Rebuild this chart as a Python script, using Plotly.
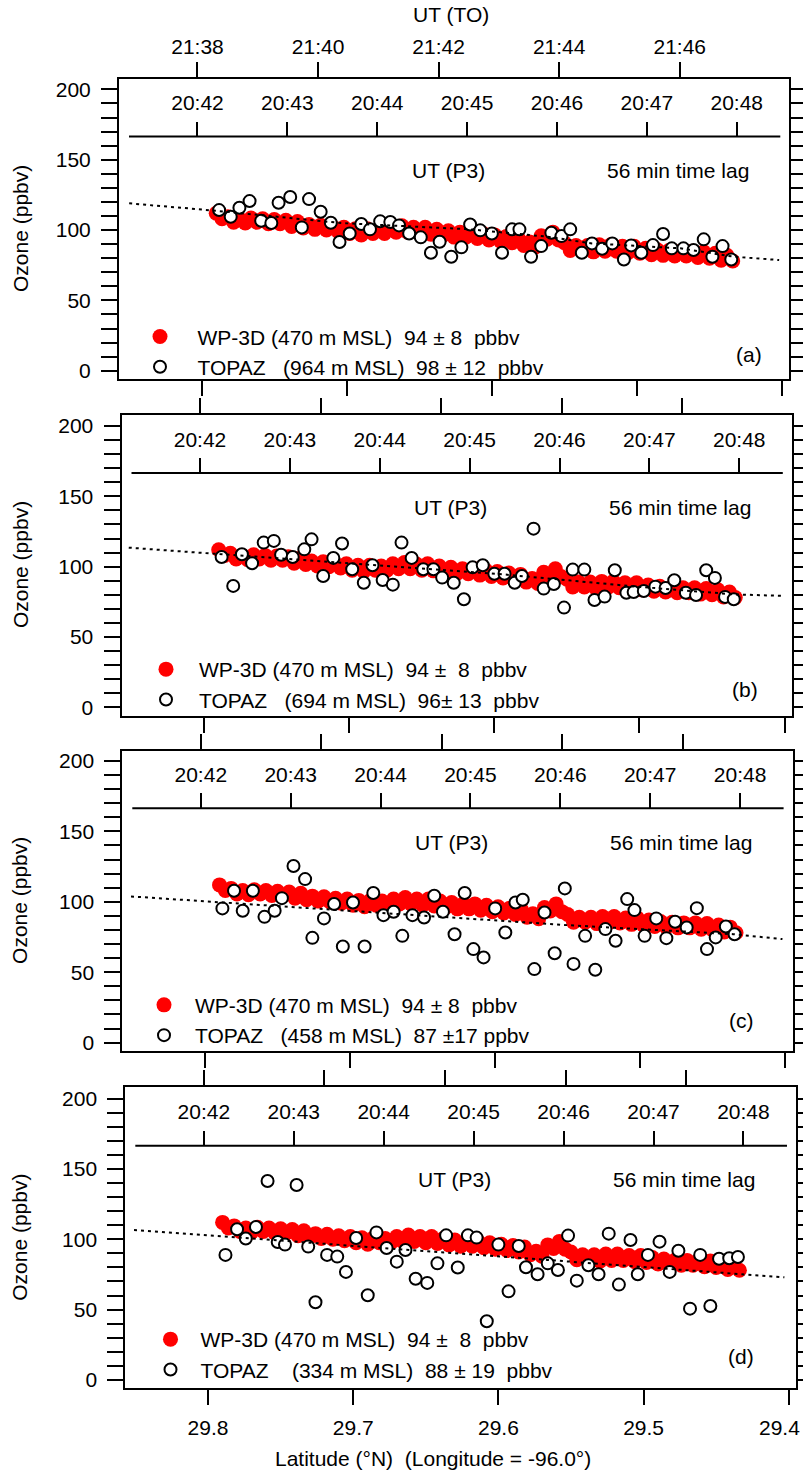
import plotly.graph_objects as go

W, H = 803, 1472
FONT = "Arial, Liberation Sans, sans-serif"
FS = 21

# ---- shared axes -------------------------------------------------------
LAT_RANGE = [29.857, 29.395]          # north on the left
LAT_TICKS = [29.8, 29.7, 29.6, 29.5, 29.4]
P3_TICKS = ["20:42", "20:43", "20:44", "20:45", "20:46", "20:47", "20:48"]
TO_TICKS = ["21:38", "21:40", "21:42", "21:44", "21:46"]
O3_TICKS = [0, 50, 100, 150, 200]

# aircraft (P3) and tower (TO) clocks against latitude
P3_REF_TIME, P3_REF_LAT, P3_DEG_PER_MIN = "20:42", 29.8029, 0.06195
TO_REF_TIME, TO_REF_LAT, TO_DEG_PER_MIN = "21:38", 29.8029, 0.04155
P3_AXIS_LEVEL = 166.5                  # ppbv level of the inner P3 time axis

# ---- WP-3D ozone along the flight track (same leg in every panel) ------
P3_LAT = [29.790, 29.786, 29.782, 29.778, 29.774, 29.770, 29.766, 29.762, 29.758, 29.754,
          29.750, 29.746, 29.742, 29.738, 29.734, 29.730, 29.726, 29.722, 29.718, 29.714,
          29.710, 29.706, 29.702, 29.698, 29.694, 29.690, 29.686, 29.682, 29.678, 29.674,
          29.670, 29.666, 29.662, 29.658, 29.654, 29.650, 29.646, 29.642, 29.638, 29.634,
          29.630, 29.626, 29.622, 29.618, 29.614, 29.610, 29.606, 29.602, 29.598, 29.594,
          29.590, 29.586, 29.582, 29.578, 29.574, 29.570, 29.566, 29.562, 29.558, 29.554,
          29.550, 29.546, 29.542, 29.538, 29.534, 29.530, 29.526, 29.522, 29.518, 29.514,
          29.510, 29.506, 29.502, 29.498, 29.494, 29.490, 29.486, 29.482, 29.478, 29.474,
          29.470, 29.466, 29.462, 29.458, 29.454, 29.450, 29.446, 29.442, 29.438, 29.434]
P3_O3 = [112.0, 108.0, 109.5, 105.5, 108.0, 105.0, 108.5, 105.5, 108.0, 104.5,
         107.5, 104.5, 107.0, 102.5, 106.0, 101.5, 104.0, 100.5, 103.5, 100.0,
         102.5, 99.0, 102.0, 97.5, 101.0, 96.5, 101.0, 97.5, 100.5, 97.5,
         102.0, 98.5, 103.0, 98.5, 102.0, 97.5, 102.0, 97.0, 100.5, 96.0,
         99.5, 95.0, 98.5, 95.0, 98.5, 94.0, 97.5, 93.0, 96.5, 92.0,
         95.5, 91.0, 94.5, 89.0, 91.5, 88.0, 96.0, 93.5, 98.5, 93.0,
         91.0, 85.5, 89.0, 85.5, 89.0, 84.5, 89.5, 85.0, 89.5, 85.0,
         88.5, 84.0, 88.5, 83.5, 87.0, 82.5, 86.0, 82.0, 85.5, 81.5,
         85.0, 81.5, 85.0, 80.5, 84.5, 80.0, 83.5, 78.5, 82.0, 78.0]

# ---- TOPAZ lidar ozone, mapped to latitude with the 56 min lag ---------
TOPAZ_LAT = [29.788, 29.780, 29.774, 29.767, 29.759, 29.752, 29.747, 29.739, 29.731, 29.726,
             29.718, 29.711, 29.705, 29.698, 29.690, 29.684, 29.677, 29.670, 29.664, 29.657,
             29.649, 29.642, 29.636, 29.628, 29.621, 29.615, 29.608, 29.600, 29.593, 29.586,
             29.581, 29.573, 29.566, 29.559, 29.552, 29.546, 29.538, 29.531, 29.524, 29.517,
             29.509, 29.504, 29.497, 29.489, 29.482, 29.476, 29.468, 29.461, 29.454, 29.448,
             29.441, 29.435]
TOPAZ_964 = [114.2, 109.5, 115.9, 120.6, 106.6, 105.0, 119.4, 123.5, 101.9, 122.0,
             113.0, 105.2, 91.5, 97.6, 104.3, 100.5, 106.2, 105.7, 103.3, 97.6,
             94.8, 83.9, 91.7, 81.0, 87.7, 104.0, 99.8, 97.6, 83.9, 100.5,
             100.5, 81.0, 88.6, 98.1, 95.7, 100.5, 83.9, 90.5, 86.7, 90.5,
             79.1, 89.1, 83.9, 89.3, 97.2, 87.0, 87.0, 85.8, 93.4, 81.0,
             88.6, 79.1]
TOPAZ_694 = [106.9, 86.3, 108.8, 102.4, 117.1, 118.3, 108.5, 106.9, 112.3, 119.4,
             93.4, 106.2, 116.4, 98.1, 88.6, 101.0, 90.5, 87.2, 117.1, 106.2,
             98.1, 98.1, 92.2, 88.6, 76.8, 99.5, 101.0, 95.0, 95.0, 88.6,
             93.4, 127.0, 84.4, 87.7, 70.9, 97.9, 97.9, 76.3, 78.7, 97.4,
             81.5, 82.0, 82.7, 85.8, 84.8, 90.3, 81.5, 79.9, 97.4, 92.0,
             78.5, 76.8]
TOPAZ_458 = [95.3, 107.8, 93.6, 107.8, 89.3, 93.6, 102.6, 125.4, 116.1, 74.4,
             88.2, 98.4, 68.3, 99.5, 68.3, 106.2, 90.5, 92.9, 75.8, 90.5,
             88.9, 104.3, 92.9, 77.0, 106.2, 66.4, 60.5, 95.3, 78.2, 99.5,
             101.4, 52.2, 92.4, 63.5, 109.5, 55.9, 75.8, 51.7, 80.6, 72.3,
             101.9, 94.1, 75.8, 88.2, 74.2, 85.8, 81.8, 95.5, 66.4, 74.7,
             82.5, 77.0]
TOPAZ_334 = [88.9, 107.1, 100.5, 108.7, 141.4, 98.1, 96.2, 138.6, 94.8, 55.2,
             88.9, 87.7, 76.8, 100.9, 60.2, 104.9, 93.8, 84.1, 92.4, 72.0,
             69.0, 82.9, 102.8, 79.9, 102.8, 101.2, 41.7, 96.2, 63.0, 95.2,
             80.1, 75.1, 82.9, 78.2, 102.6, 70.6, 81.5, 75.1, 104.0, 67.8,
             99.5, 75.1, 88.9, 98.3, 76.8, 91.9, 50.7, 88.9, 52.6, 86.2,
             86.5, 87.4]

# smoothed TOPAZ trend (dotted)
TREND_964_LAT = [29.850, 29.790, 29.704, 29.615, 29.562, 29.531, 29.470, 29.433, 29.402]
TREND_964_O3 = [119.0, 113.7, 105.0, 100.5, 95.3, 90.5, 87.0, 81.0, 78.7]
TREND_694_LAT = [29.852, 29.789, 29.687, 29.595, 29.564, 29.502, 29.435, 29.401]
TREND_694_O3 = [113.5, 108.8, 101.0, 94.6, 91.7, 85.8, 80.3, 79.2]
TREND_458_LAT = [29.851, 29.728, 29.614, 29.550, 29.436, 29.402]
TREND_458_O3 = [103.8, 95.3, 87.7, 83.4, 77.0, 73.5]
TREND_334_LAT = [29.851, 29.820, 29.776, 29.659, 29.566, 29.505, 29.437, 29.403]
TREND_334_O3 = [106.6, 104.3, 101.4, 92.4, 85.3, 80.6, 75.8, 73.0]

WP3D_LABELS = ["WP-3D (470 m MSL)  94 ± 8  pbbv",
               "WP-3D (470 m MSL)  94 ±  8  pbbv",
               "WP-3D (470 m MSL)  94 ± 8  pbbv",
               "WP-3D (470 m MSL)  94 ±  8  pbbv"]
TOPAZ_LABELS = ["TOPAZ   (964 m MSL)  98 ± 12  pbbv",
                "TOPAZ   (694 m MSL)  96± 13  pbbv",
                "TOPAZ   (458 m MSL)  87 ±17 ppbv",
                "TOPAZ    (334 m MSL)  88 ± 19  pbbv"]
PANEL_TAGS = ["(a)", "(b)", "(c)", "(d)"]
TOPAZ_SERIES = [TOPAZ_964, TOPAZ_694, TOPAZ_458, TOPAZ_334]
TRENDS = [(TREND_964_LAT, TREND_964_O3), (TREND_694_LAT, TREND_694_O3),
          (TREND_458_LAT, TREND_458_O3), (TREND_334_LAT, TREND_334_O3)]

# panel frames in page pixels and their ozone windows
FRAMES = [
    dict(left=119.0, right=789.3, top=79.0, bottom=379.0, yr=[-5.9, 207.4],
         tag_x=0.940, tag_y=11.2, leg=(160.0, 333.3, 65)),
    dict(left=121.5, right=791.8, top=414.7, bottom=715.5, yr=[-5.8, 208.0],
         tag_x=0.930, tag_y=12.8, leg=(166.0, 666.0, 56)),
    dict(left=122.3, right=792.6, top=750.7, bottom=1051.2, yr=[-6.1, 207.3],
         tag_x=0.924, tag_y=15.9, leg=(164.0, 1001.7, 52)),
    dict(left=125.3, right=796.0, top=1087.3, bottom=1388.3, yr=[-5.9, 208.0],
         tag_x=0.918, tag_y=16.5, leg=(170.5, 1336.0, 50)),
]

# the last latitude label sits against the page edge, so it is set flush right
LAT_TICK_TEXT = [f"{v:.1f}" for v in LAT_TICKS[:-1]] + [""]
EDGE_LABEL = f"{LAT_TICKS[-1]:.1f}"
LAT_LABEL_ROW = 1427                   # page y of the latitude tick labels


def minutes(hhmm):
    h, m = hhmm.split(":")
    return int(h) * 60 + int(m)


def clock_at(lat, ref_time, ref_lat, deg_per_min):
    return minutes(ref_time) + (ref_lat - lat) / deg_per_min


P3_RANGE = [clock_at(v, P3_REF_TIME, P3_REF_LAT, P3_DEG_PER_MIN) for v in LAT_RANGE]
TO_RANGE = [clock_at(v, TO_REF_TIME, TO_REF_LAT, TO_DEG_PER_MIN) for v in LAT_RANGE]

axis_common = dict(showgrid=False, zeroline=False, color="black", automargin=False,
                   tickfont=dict(family=FONT, size=FS, color="black"),
                   tickcolor="black", tickwidth=2, ticklabeloverflow="allow")

fig = go.Figure()
layout = dict(template="none", width=W, height=H, autosize=False,
              margin=dict(l=0, r=0, t=0, b=0, pad=0),
              paper_bgcolor="white", plot_bgcolor="rgba(0,0,0,0)",
              font=dict(family=FONT, size=FS, color="black"),
              showlegend=True, annotations=[], shapes=[])

for i, fr in enumerate(FRAMES):
    n_lat, n_to, n_p3 = 3 * i + 1, 3 * i + 2, 3 * i + 3
    xa = lambda n: "x" if n == 1 else f"x{n}"
    xk = lambda n: "xaxis" if n == 1 else f"xaxis{n}"
    ya = "y" if i == 0 else f"y{i + 1}"
    yk = "yaxis" if i == 0 else f"yaxis{i + 1}"
    leg = "legend" if i == 0 else f"legend{i + 1}"

    dom_x = [fr["left"] / W, fr["right"] / W]
    dom_y = [1 - fr["bottom"] / H, 1 - fr["top"] / H]
    y0, y1 = fr["yr"]
    px_per_ppbv = (fr["bottom"] - fr["top"]) / (y1 - y0)
    p3_px = fr["top"] + (y1 - P3_AXIS_LEVEL) * px_per_ppbv

    layout[xk(n_lat)] = dict(domain=dom_x, range=LAT_RANGE, anchor=ya,
                             tickvals=LAT_TICKS, ticktext=LAT_TICK_TEXT,
                             showticklabels=(i == 3), ticks="outside", ticklen=15,
                             ticklabelstandoff=4,
                             showline=True, linewidth=2, linecolor="black", mirror=True,
                             **axis_common)
    layout[xk(n_to)] = dict(domain=dom_x, range=TO_RANGE, anchor=ya, overlaying=xa(n_lat),
                            side="top", tickvals=[minutes(t) for t in TO_TICKS],
                            ticktext=TO_TICKS, showticklabels=(i == 0),
                            ticks="outside", ticklen=16, ticklabelstandoff=0,
                            showline=False, **axis_common)
    layout[xk(n_p3)] = dict(domain=dom_x, range=P3_RANGE, anchor="free",
                            overlaying=xa(n_lat), position=1 - p3_px / H,
                            side="top", tickvals=[minutes(t) for t in P3_TICKS],
                            ticktext=P3_TICKS, ticks="outside", ticklen=15,
                            ticklabelstandoff=3, showline=False, **axis_common)
    layout[yk] = dict(domain=dom_y, range=fr["yr"], anchor=xa(n_lat),
                      tickvals=O3_TICKS, ticks="outside", ticklen=16,
                      ticklabelstandoff=6,
                      minor=dict(dtick=10, tick0=0, ticks="outside", ticklen=6,
                                 tickwidth=2, tickcolor="black"),
                      showline=True, linewidth=2, linecolor="black", mirror="allticks",
                      **axis_common)

    # inner P3 time axis baseline
    layout["shapes"].append(dict(type="line", xref=f"{xa(n_lat)} domain", yref=ya,
                                 x0=10 / 670, x1=1 - 9 / 670,
                                 y0=P3_AXIS_LEVEL, y1=P3_AXIS_LEVEL,
                                 line=dict(color="black", width=2)))

    # WP-3D
    fig.add_trace(go.Scatter(x=P3_LAT, y=P3_O3, xaxis=xa(n_lat), yaxis=ya, mode="markers",
                             marker=dict(color="#ff0000", size=15, line=dict(width=0)),
                             name=WP3D_LABELS[i].replace(" ", "\u00a0"), legend=leg,
                             legendgroup=f"p3{i}", hoverinfo="skip"))
    # TOPAZ
    fig.add_trace(go.Scatter(x=TOPAZ_LAT, y=TOPAZ_SERIES[i], xaxis=xa(n_lat), yaxis=ya,
                             mode="markers",
                             marker=dict(color="white", size=12,
                                         line=dict(color="black", width=2)),
                             name=TOPAZ_LABELS[i].replace(" ", "\u00a0"), legend=leg,
                             legendgroup=f"to{i}", hoverinfo="skip"))
    # trend
    fig.add_trace(go.Scatter(x=TRENDS[i][0], y=TRENDS[i][1], xaxis=xa(n_lat), yaxis=ya,
                             mode="lines", line=dict(color="black", width=2, dash="3px,4px"),
                             showlegend=False, hoverinfo="skip"))
    # hidden anchors so the two time axes are drawn
    fig.add_trace(go.Scatter(x=[minutes(TO_TICKS[0])], y=[0], xaxis=xa(n_to), yaxis=ya,
                             mode="markers", marker=dict(opacity=0, size=1),
                             showlegend=False, hoverinfo="skip"))
    fig.add_trace(go.Scatter(x=[minutes(P3_TICKS[0])], y=[0], xaxis=xa(n_p3), yaxis=ya,
                             mode="markers", marker=dict(opacity=0, size=1),
                             showlegend=False, hoverinfo="skip"))

    dot_x, dot_y, iw = fr["leg"]
    layout[leg] = dict(x=(dot_x - 5 - iw / 2) / W, y=1 - (dot_y - 17) / H,
                       xanchor="left", yanchor="top", bgcolor="rgba(0,0,0,0)",
                       borderwidth=0, itemwidth=iw, tracegroupgap=0,
                       itemsizing="trace", traceorder="normal",
                       font=dict(family=FONT, size=FS, color="black"))

    ann_font = dict(family=FONT, size=FS, color="black")
    layout["annotations"] += [
        dict(text="UT (P3)", xref=f"{xa(n_lat)} domain", yref=ya, x=0.491, y=142.3,
             showarrow=False, xanchor="center", yanchor="middle", font=ann_font),
        dict(text="56 min time lag", xref=f"{xa(n_lat)} domain", yref=ya, x=0.9424,
             y=142.3, showarrow=False, xanchor="right", yanchor="middle", font=ann_font),
        dict(text=PANEL_TAGS[i], xref=f"{xa(n_lat)} domain", yref=ya, x=fr["tag_x"],
             y=fr["tag_y"], showarrow=False, xanchor="center", yanchor="middle",
             font=ann_font),
        dict(text="Ozone (ppbv)", xref="paper", yref=f"{ya} domain", x=20 / W, y=0.5,
             textangle=-90, showarrow=False, xanchor="center", yanchor="middle",
             font=ann_font),
    ]

base_font = dict(family=FONT, size=FS, color="black")
layout["annotations"] += [
    dict(text="UT (TO)", xref="paper", yref="paper", x=450.7 / W, y=1 - 15 / H,
         showarrow=False, xanchor="center", yanchor="middle", font=base_font),
    dict(text="Latitude (°N)  (Longitude = -96.0°)".replace("  ", "\u00a0\u00a0"),
         xref="paper", yref="paper", x=432.7 / W, y=1 - 1458 / H,
         showarrow=False, xanchor="center", yanchor="middle", font=base_font),
    dict(text=EDGE_LABEL, xref="paper", yref="paper", x=(W - 1) / W,
         y=1 - LAT_LABEL_ROW / H, showarrow=False, xanchor="right", yanchor="middle",
         font=base_font),
]

fig.update_layout(**layout)
fig.write_html("out.html")
